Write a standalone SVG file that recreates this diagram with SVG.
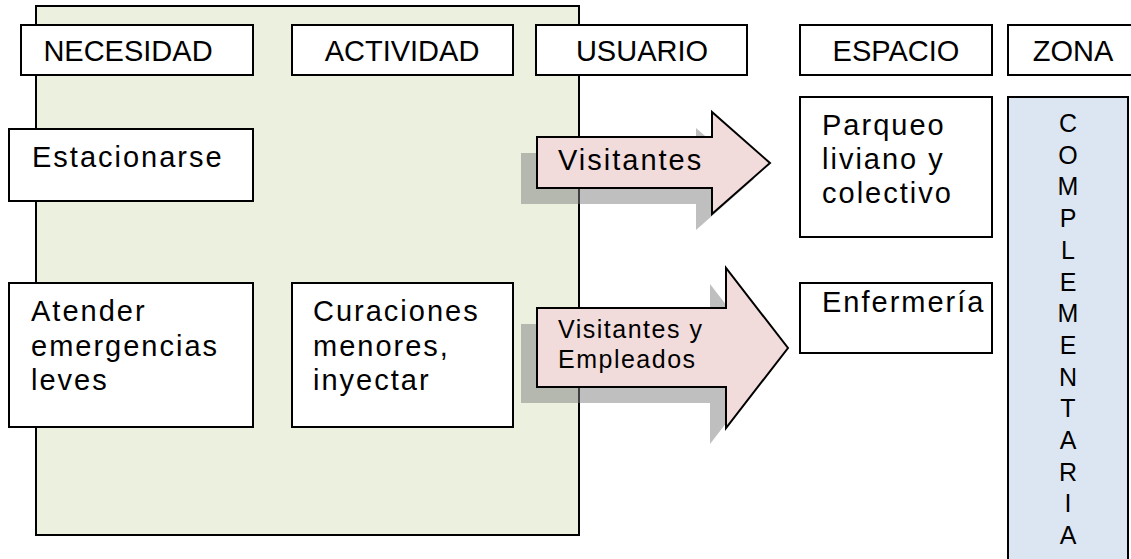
<svg xmlns="http://www.w3.org/2000/svg" width="1131" height="559" viewBox="0 0 1131 559">
<defs>
<style>
.box{fill:#ffffff;stroke:#000;stroke-width:2}
.hdr{font-family:"Liberation Sans",Arial,sans-serif;font-size:29px;fill:#000;text-anchor:middle}
.txt{font-family:"Liberation Sans",Arial,sans-serif;font-size:29px;fill:#000;letter-spacing:2px}
.arr{fill:#f2dcdb;stroke:#000;stroke-width:2;stroke-linejoin:miter}
.shd{fill:#808080;opacity:0.5}
.zl{font-family:"Liberation Sans",Arial,sans-serif;font-size:25px;fill:#000;text-anchor:middle}
</style>
</defs>
<rect width="1131" height="559" fill="#ffffff"/>
<g id="fondo">
<rect x="36" y="6" width="543" height="529" fill="#ebf1de" stroke="#000" stroke-width="2"/>
</g>
<g id="h-necesidad"><rect class="box" x="21" y="25" width="232" height="50"/><text class="hdr" x="128" y="61">NECESIDAD</text></g>
<g id="h-actividad"><rect class="box" x="292" y="25" width="221" height="50"/><text class="hdr" x="402" y="61">ACTIVIDAD</text></g>
<g id="h-usuario"><rect class="box" x="536" y="25" width="211" height="50"/><text class="hdr" x="642" y="61">USUARIO</text></g>
<g id="h-espacio"><rect class="box" x="800" y="25" width="192" height="50"/><text class="hdr" x="896" y="61">ESPACIO</text></g>
<g id="h-zona"><rect class="box" x="1008" y="25" width="131" height="50"/><text class="hdr" x="1073" y="61">ZONA</text></g>
<g id="n-estacionarse"><rect class="box" x="9" y="129" width="244" height="72"/><text class="txt" x="32" y="167">Estacionarse</text></g>
<g id="n-atender"><rect class="box" x="9" y="283" width="244" height="144"/><text class="txt" x="31" y="321">Atender<tspan x="31" dy="35">emergencias</tspan><tspan x="31" dy="34">leves</tspan></text></g>
<g id="n-curaciones"><rect class="box" x="292" y="283" width="221" height="144"/><text class="txt" x="313" y="321">Curaciones<tspan x="313" dy="35">menores,</tspan><tspan x="313" dy="34">inyectar</tspan></text></g>
<g id="n-parqueo"><rect class="box" x="800" y="97" width="192" height="140"/><text class="txt" x="822" y="135">Parqueo<tspan x="822" dy="34">liviano y</tspan><tspan x="822" dy="34">colectivo</tspan></text></g>
<g id="n-enfermeria"><rect class="box" x="800" y="283" width="192" height="70"/><text class="txt" x="822" y="312">Enfermería</text></g>
<g id="n-complementaria">
<rect x="1008" y="97" width="120" height="470" fill="#dce6f2" stroke="#000" stroke-width="2"/>
<text class="zl" x="1068" y="132">C<tspan x="1068" dy="31.7">O</tspan><tspan x="1068" dy="31.7">M</tspan><tspan x="1068" dy="31.7">P</tspan><tspan x="1068" dy="31.7">L</tspan><tspan x="1068" dy="31.7">E</tspan><tspan x="1068" dy="31.7">M</tspan><tspan x="1068" dy="31.7">E</tspan><tspan x="1068" dy="31.7">N</tspan><tspan x="1068" dy="31.7">T</tspan><tspan x="1068" dy="31.7">A</tspan><tspan x="1068" dy="31.7">R</tspan><tspan x="1068" dy="31.7">I</tspan><tspan x="1068" dy="31.7">A</tspan></text>
</g>
<g id="connectors">
<g id="arrow-visitantes">
<polygon class="shd" points="521,153 696,153 696,128 754,179 696,230 696,204 521,204"/>
<polygon class="arr" points="537,137 712,137 712,112 770,163 712,214 712,188 537,188"/>
<text class="txt" x="558" y="170">Visitantes</text>
</g>
<g id="arrow-visitantes-empleados">
<polygon class="shd" points="521,324 710,324 710,284 772,364 710,444 710,403 521,403"/>
<polygon class="arr" points="537,308 726,308 726,268 788,348 726,428 726,387 537,387"/>
<text class="txt" x="558" y="338" style="font-size:25px;letter-spacing:1.5px">Visitantes y<tspan x="558" dy="30">Empleados</tspan></text>
</g>
</g>
</svg>
